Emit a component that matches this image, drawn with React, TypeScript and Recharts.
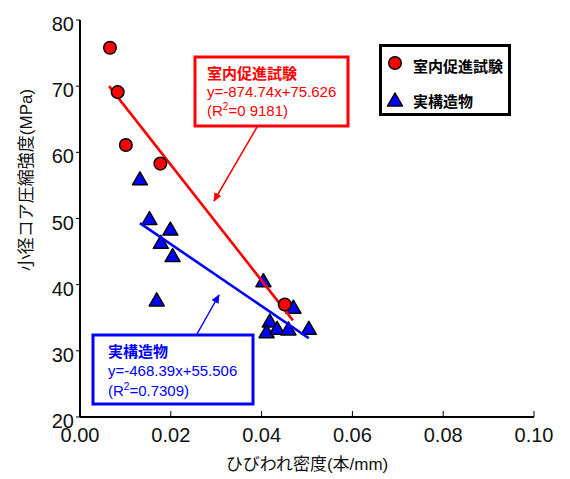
import React from 'react';
import { ScatterChart, Scatter, XAxis, YAxis, Customized, Label } from 'recharts';

// ---- data ----
const labDensity = [0.0066, 0.0083, 0.0101, 0.0177, 0.0451];
const labStrength = [75.8, 69.1, 61.1, 58.3, 37.0];

const siteDensity = [0.0132, 0.0153, 0.0199, 0.0178, 0.0204, 0.0169, 0.0404, 0.047, 0.0418, 0.0411, 0.0434, 0.0459, 0.0504];
const siteStrength = [56.0, 50.0, 48.4, 46.4, 44.4, 37.7, 40.6, 36.6, 34.5, 32.9, 33.4, 33.3, 33.4];

const labFitX = [0.0064, 0.0469];
const labFitY = [70.0, 34.6];
const siteFitX = [0.0132, 0.0504];
const siteFitY = [49.3, 31.9];

const xTicks = [0, 0.02, 0.04, 0.06, 0.08, 0.1];
const yTicks = [20, 30, 40, 50, 60, 70, 80];

const labName = '室内促進試験';
const siteName = '実構造物';
const labEq = 'y=-874.74x+75.626';
const labR2 = '=0 9181)';
const siteEq = 'y=-468.39x+55.506';
const siteR2 = '=0.7309)';
const xTitle = 'ひびわれ密度(本/mm)';
const yTitle = '小径コア圧縮強度(MPa)';

const zip = (xs: number[], ys: number[]) => xs.map((x, i) => ({ x, y: ys[i] }));
const labData = zip(labDensity, labStrength);
const siteData = zip(siteDensity, siteStrength);
const labFit = zip(labFitX, labFitY);
const siteFit = zip(siteFitX, siteFitY);

const FONT = "'Liberation Sans', Arial, 'Noto Sans CJK JP', sans-serif";
const RED = '#ff0000';
const BLUE = '#0000ff';

const Circle = (p: any) => (
  <circle cx={p.cx} cy={p.cy} r={6.3} fill={RED} stroke="#000" strokeWidth={1.5} />
);
const Tri = (p: any) => (
  <polygon
    points={`${p.cx},${p.cy - 7} ${p.cx - 7.5},${p.cy + 6} ${p.cx + 7.5},${p.cy + 6}`}
    fill={BLUE}
    stroke="#000"
    strokeWidth={1.5}
    strokeLinejoin="round"
  />
);
const NoShape = () => <g />;

const Annotations = () => (
  <g fontFamily={FONT}>
    <defs>
      <marker id="arrRed" markerWidth="10" markerHeight="10" refX="8" refY="5" orient="auto" markerUnits="userSpaceOnUse">
        <path d="M0,1 L9,5 L0,9 Z" fill={RED} />
      </marker>
      <marker id="arrBlue" markerWidth="10" markerHeight="10" refX="8" refY="5" orient="auto" markerUnits="userSpaceOnUse">
        <path d="M0,1 L9,5 L0,9 Z" fill={BLUE} />
      </marker>
    </defs>
    {/* red annotation */}
    <rect x={187} y={49} width={153} height={69} fill="#fff" stroke={RED} strokeWidth={3} />
    <text x={199} y={71} fill={RED} fontSize={15} fontWeight="bold">{labName}</text>
    <text x={199} y={89} fill={RED} fontSize={15}>{labEq}</text>
    <text x={199} y={108} fill={RED} fontSize={15}>
      (R<tspan fontSize={10} dy={-6}>2</tspan><tspan dy={6}>{labR2}</tspan>
    </text>
    <line x1={249} y1={119} x2={206} y2={193} stroke={RED} strokeWidth={1.5} markerEnd="url(#arrRed)" />
    {/* blue annotation */}
    <rect x={85} y={327} width={160} height={69} fill="#fff" stroke={BLUE} strokeWidth={3} />
    <text x={100} y={349} fill={BLUE} fontSize={15} fontWeight="bold">{siteName}</text>
    <text x={100} y={368} fill={BLUE} fontSize={15}>{siteEq}</text>
    <text x={100} y={388} fill={BLUE} fontSize={15}>
      (R<tspan fontSize={10} dy={-6}>2</tspan><tspan dy={6}>{siteR2}</tspan>
    </text>
    <line x1={189} y1={326} x2={211} y2={287} stroke={BLUE} strokeWidth={1.5} markerEnd="url(#arrBlue)" />
    {/* legend */}
    <rect x={372.5} y={37.5} width={129} height={69} fill="#fff" stroke="#000" strokeWidth={3} />
    <circle cx={387} cy={55} r={6.3} fill={RED} stroke="#000" strokeWidth={1.5} />
    <text x={405} y={64} fill="#000" fontSize={15} fontWeight="bold">{labName}</text>
    <polygon points="387,85 379.5,98 394.5,98" fill={BLUE} stroke="#000" strokeWidth={1.5} strokeLinejoin="round" />
    <text x={405} y={99} fill="#000" fontSize={15} fontWeight="bold">{siteName}</text>
  </g>
);

export default function App() {
  return (
    <div style={{ width: 554, height: 471, background: '#fff' }}>
      <ScatterChart width={554} height={471} margin={{ top: 12, right: 28, bottom: 0, left: 0 }}>
        <XAxis
          xAxisId="b"
          dataKey="x"
          type="number"
          domain={[0, 0.1]}
          ticks={xTicks}
          tickFormatter={(v: number) => v.toFixed(2)}
          height={62}
          axisLine={{ stroke: '#000', strokeWidth: 2 }}
          tickLine={{ stroke: '#000', strokeWidth: 1 }}
          tickSize={-6}
          tickMargin={17}
          tick={{ fill: '#111', fontSize: 20, fontFamily: FONT }}
          interval={0}
          allowDataOverflow
        >
          <Label
            value={xTitle}
            position="insideBottom"
            offset={9}
            style={{ fontSize: 17, fontFamily: FONT, fill: '#111' }}
          />
        </XAxis>
        <XAxis
          xAxisId="t"
          orientation="top"
          type="number"
          domain={[0, 0.1]}
          height={0}
          tick={false}
          tickLine={false}
          axisLine={{ stroke: '#000', strokeWidth: 2 }}
        />
        <YAxis
          yAxisId="l"
          dataKey="y"
          type="number"
          domain={[20, 80]}
          ticks={yTicks}
          width={72}
          axisLine={{ stroke: '#000', strokeWidth: 2 }}
          tickLine={{ stroke: '#000', strokeWidth: 1 }}
          tickSize={4}
          tickMargin={2}
          tick={{ fill: '#111', fontSize: 20, fontFamily: FONT, dy: 4 }}
          interval={0}
          allowDataOverflow
        >
          <Label
            content={() => (
              <text
                x={18}
                y={172}
                transform="rotate(-90 18 172)"
                textAnchor="middle"
                dominantBaseline="central"
                fontSize={17}
                fontFamily={FONT}
                fill="#111"
              >
                {yTitle}
              </text>
            )}
          />
        </YAxis>
        <YAxis
          yAxisId="r"
          orientation="right"
          type="number"
          domain={[20, 80]}
          width={0}
          tick={false}
          tickLine={false}
          axisLine={{ stroke: '#000', strokeWidth: 2 }}
        />
        <Scatter
          name={siteName}
          data={siteData}
          xAxisId="b"
          yAxisId="l"
          shape={Tri}
          isAnimationActive={false}
        />
        <Scatter
          name="labfit"
          data={labFit}
          xAxisId="b"
          yAxisId="l"
          line={{ stroke: RED, strokeWidth: 2.6 }}
          shape={NoShape}
          legendType="none"
          isAnimationActive={false}
        />
        <Scatter
          name="sitefit"
          data={siteFit}
          xAxisId="b"
          yAxisId="l"
          line={{ stroke: BLUE, strokeWidth: 2.6 }}
          shape={NoShape}
          legendType="none"
          isAnimationActive={false}
        />
        <Scatter
          name={labName}
          data={labData}
          xAxisId="b"
          yAxisId="l"
          shape={Circle}
          isAnimationActive={false}
        />
        <Customized component={Annotations} />
      </ScatterChart>
    </div>
  );
}
